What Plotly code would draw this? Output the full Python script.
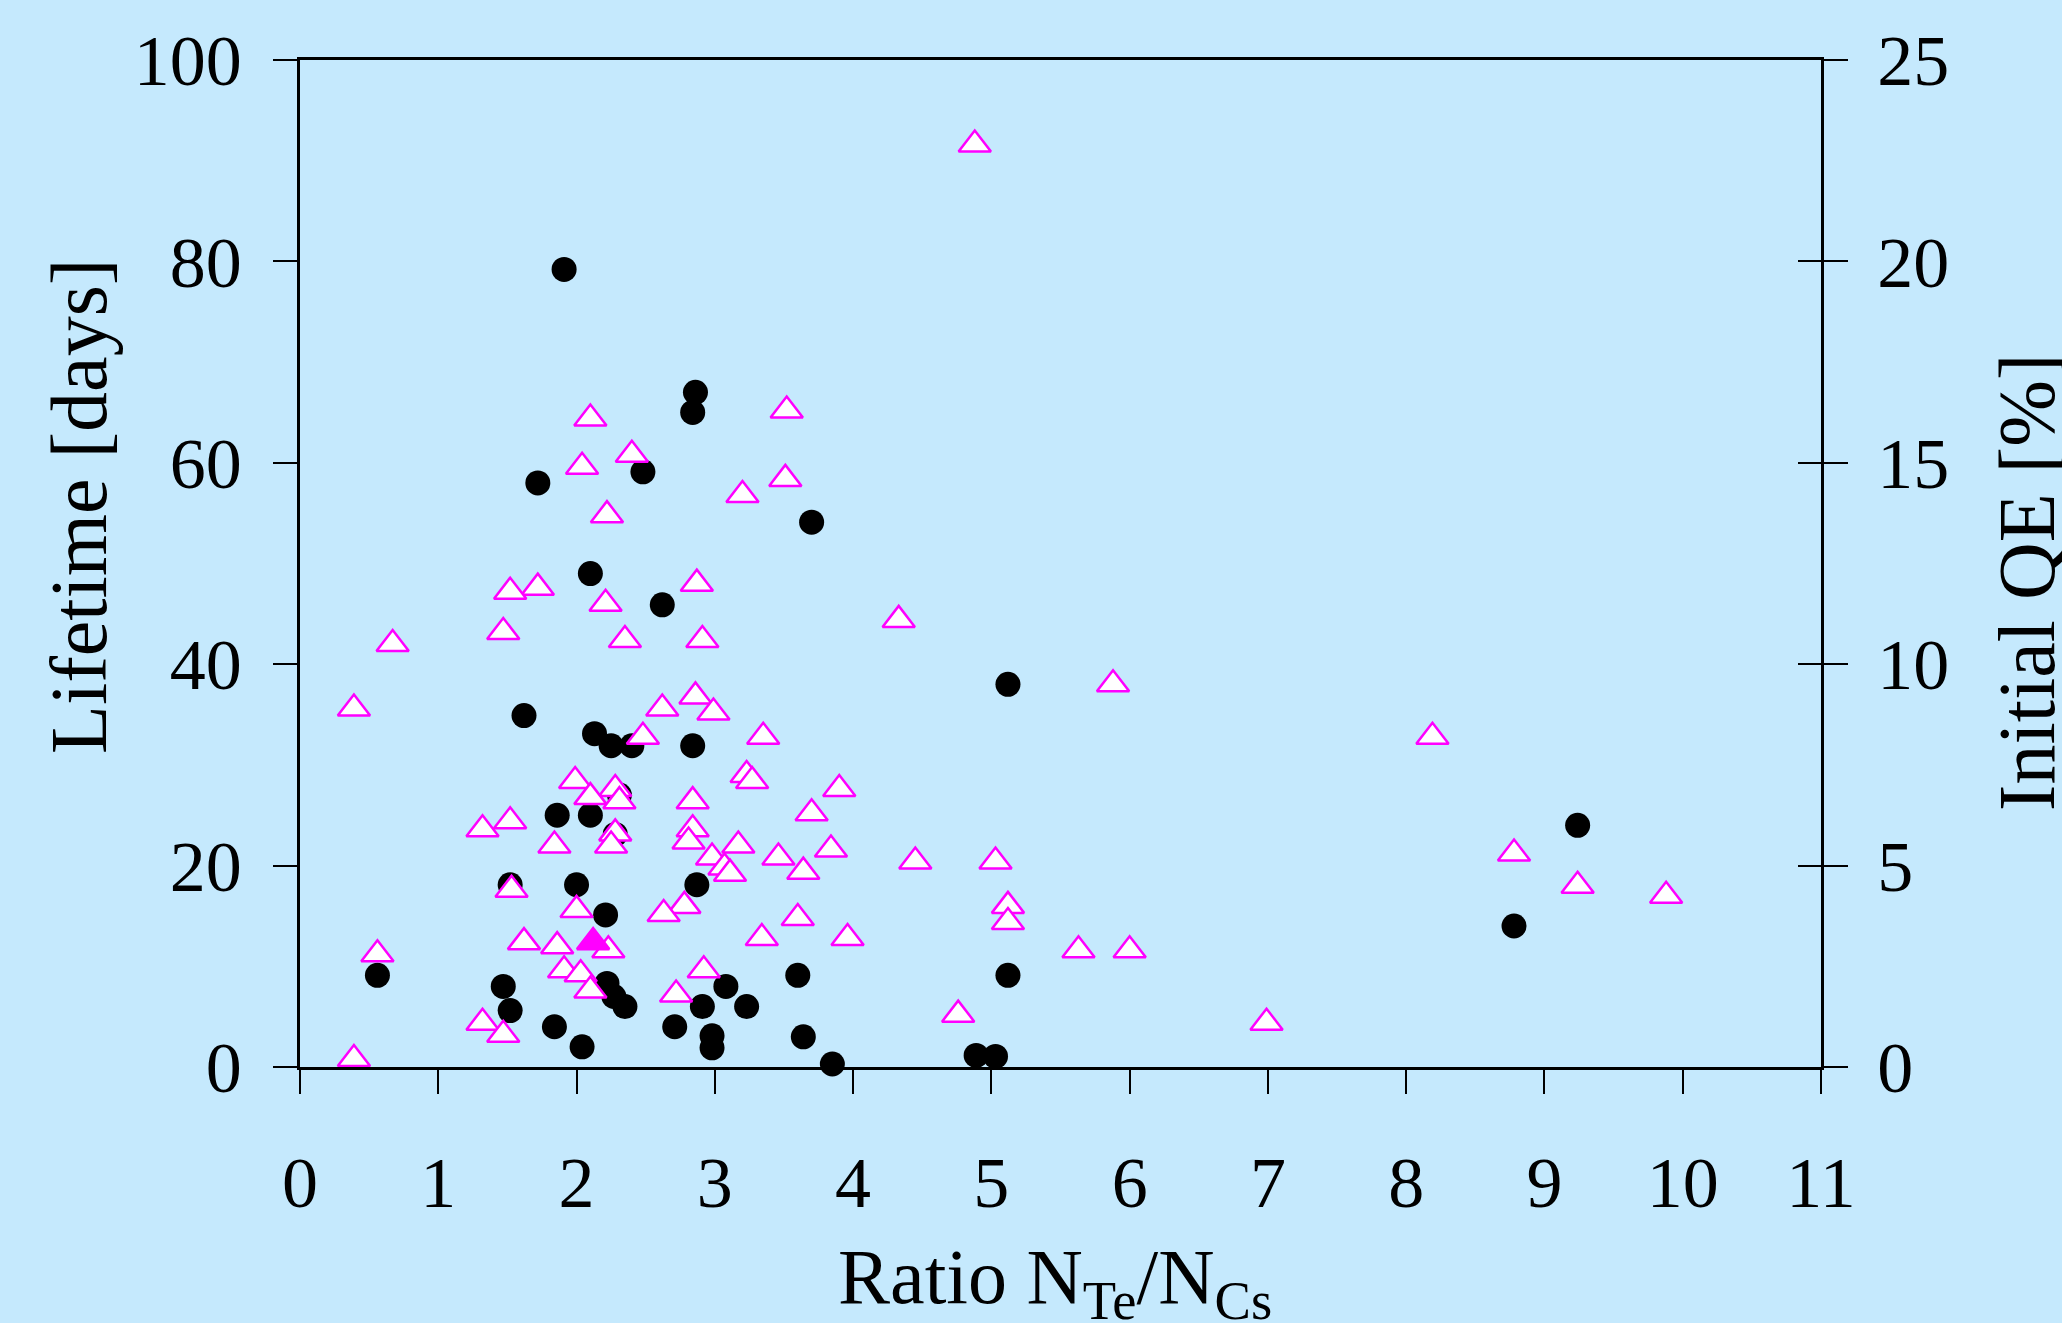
import plotly.graph_objects as go

# Lifetime [days] (black circles, left axis)
life_x = [1.91, 2.86, 2.84, 2.48, 1.72, 3.70, 2.10, 2.62, 5.12, 1.62,
          2.13, 2.25, 2.40, 2.84, 2.31, 1.86, 2.10, 2.28, 9.24, 1.52,
          2.00, 2.87, 2.21, 8.78, 0.56, 3.60, 5.12, 1.47, 2.22, 3.08,
          2.27, 2.35, 2.91, 3.23, 1.52, 1.84, 2.71, 2.98, 3.64, 2.04,
          2.98, 4.89, 5.03, 3.85]
life_y = [79.2, 67.0, 65.0, 59.1, 58.0, 54.1, 49.0, 45.9, 38.0, 34.9,
          33.1, 31.9, 31.9, 31.9, 27.0, 25.0, 25.0, 23.1, 24.0, 18.1,
          18.1, 18.1, 15.1, 14.0, 9.1, 9.1, 9.1, 8.0, 8.3, 8.0,
          7.0, 6.0, 6.0, 6.0, 5.6, 4.0, 4.0, 3.1, 3.0, 2.0,
          1.9, 1.15, 1.05, 0.3]

# Initial QE [%] (open magenta triangles, right axis)
qe_x = [4.88, 3.52, 2.10, 2.40, 2.04, 3.51, 3.20, 2.22, 2.87, 1.72,
        1.52, 2.21, 4.33, 1.47, 2.35, 2.91, 0.67, 5.88, 2.86, 0.39,
        2.62, 2.99, 2.48, 3.35, 8.19, 3.23, 3.27, 1.99, 2.28, 3.90,
        2.10, 2.31, 2.84, 3.70, 1.52, 1.32, 2.84, 2.28, 2.81, 1.84,
        2.25, 3.17, 3.84, 8.78, 2.98, 3.46, 4.45, 5.03, 3.07, 3.11,
        3.64, 9.24, 1.53, 9.88, 2.78, 5.12, 2.00, 2.63, 3.60, 5.12,
        3.34, 3.96, 1.62, 1.86, 2.23, 5.63, 6.00, 0.56, 1.91, 2.92,
        2.03, 2.10, 2.72, 4.76, 1.32, 6.99, 1.47, 0.39]
qe_y = [22.9, 16.3, 16.1, 15.2, 14.9, 14.6, 14.2, 13.7, 12.0, 11.9,
        11.8, 11.5, 11.1, 10.8, 10.6, 10.6, 10.5, 9.5, 9.2, 8.9,
        8.9, 8.8, 8.2, 8.2, 8.2, 7.25, 7.1, 7.1, 6.9, 6.9,
        6.7, 6.6, 6.6, 6.3, 6.1, 5.9, 5.9, 5.8, 5.6, 5.5,
        5.5, 5.5, 5.4, 5.3, 5.2, 5.2, 5.1, 5.1, 4.95, 4.8,
        4.85, 4.5, 4.4, 4.25, 4.0, 4.0, 3.9, 3.8, 3.7, 3.6,
        3.2, 3.2, 3.1, 3.0, 2.9, 2.9, 2.9, 2.8, 2.4, 2.4,
        2.3, 1.9, 1.8, 1.3, 1.1, 1.1, 0.8, 0.2]

# single filled triangle
qe_fill_x = [2.12]
qe_fill_y = [3.1]

x_ticks = list(range(0, 12))
left_ticks = [0, 20, 40, 60, 80, 100]
right_ticks = [0, 5, 10, 15, 20, 25]

BG = "#C5E9FD"
FONT = "Liberation Serif, Times New Roman, serif"
MAG = "#FF00FF"

fig = go.Figure()
fig.add_trace(go.Scatter(x=life_x, y=life_y, mode="markers", yaxis="y",
                         marker=dict(symbol="circle", size=25, color="black",
                                     line=dict(width=0)),
                         cliponaxis=False, showlegend=False))
fig.add_trace(go.Scatter(x=qe_x, y=qe_y, mode="markers", yaxis="y2",
                         marker=dict(symbol="triangle-up", size=28, color="white",
                                     line=dict(width=2.5, color=MAG)),
                         cliponaxis=False, showlegend=False))
fig.add_trace(go.Scatter(x=qe_fill_x, y=qe_fill_y, mode="markers", yaxis="y3",
                         marker=dict(symbol="triangle-up", size=28, color=MAG,
                                     line=dict(width=2.5, color=MAG)),
                         cliponaxis=False, showlegend=False))

tickfont = dict(family=FONT, size=72, color="black")

fig.update_layout(
    width=2062, height=1323,
    paper_bgcolor=BG, plot_bgcolor=BG,
    margin=dict(l=300, r=241, t=60, b=256, pad=0, autoexpand=False),
    font=dict(family=FONT, color="black"),
    showlegend=False,
    xaxis=dict(range=[0, 11], tickvals=x_ticks, ticktext=[str(v) for v in x_ticks],
               ticks="outside", ticklen=24, tickwidth=1.5, tickcolor="black",
               showline=True, linewidth=2.5, linecolor="black", mirror=True,
               showgrid=False, zeroline=False, tickfont=tickfont,
               ticklabelstandoff=27, automargin=False),
    yaxis=dict(range=[0, 100], tickvals=left_ticks, ticktext=[str(v) for v in left_ticks],
               ticks="outside", ticklen=24, tickwidth=1.5, tickcolor="black",
               showline=True, linewidth=2.5, linecolor="black",
               showgrid=False, zeroline=False, tickfont=tickfont,
               ticklabelstandoff=17, automargin=False),
    yaxis2=dict(range=[0, 25], tickvals=right_ticks, ticktext=[str(v) for v in right_ticks],
                overlaying="y", side="right",
                ticks="outside", ticklen=24, tickwidth=1.5, tickcolor="black",
                showline=True, linewidth=2.5, linecolor="black",
                showgrid=False, zeroline=False, tickfont=tickfont,
                ticklabelstandoff=15, automargin=False),
    yaxis3=dict(range=[0, 25], tickvals=right_ticks, overlaying="y", side="right",
                ticks="inside", ticklen=23, tickwidth=1.5, tickcolor="black",
                showticklabels=False, showline=False, showgrid=False,
                zeroline=False, automargin=False),
    annotations=[
        dict(text="Lifetime [days]", textangle=-90, xref="paper", yref="paper",
             x=-0.1454, y=0.557, xanchor="center", yanchor="middle",
             showarrow=False, font=dict(family=FONT, size=80, color="black")),
        dict(text="Initial QE [%]", textangle=-90, xref="paper", yref="paper",
             x=1.1350, y=0.4818, xanchor="center", yanchor="middle",
             showarrow=False, font=dict(family=FONT, size=80, color="black")),
        dict(text="Ratio N<sub>Te</sub>/N<sub>Cs</sub>", xref="paper", yref="paper",
             x=0.4964, y=-0.1625, xanchor="center", yanchor="top",
             showarrow=False, font=dict(family=FONT, size=78, color="black")),
    ],
)

fig.write_html("out.html", config={"displayModeBar": False},
               post_script="document.body.style.margin='0';document.body.style.overflow='hidden';")
